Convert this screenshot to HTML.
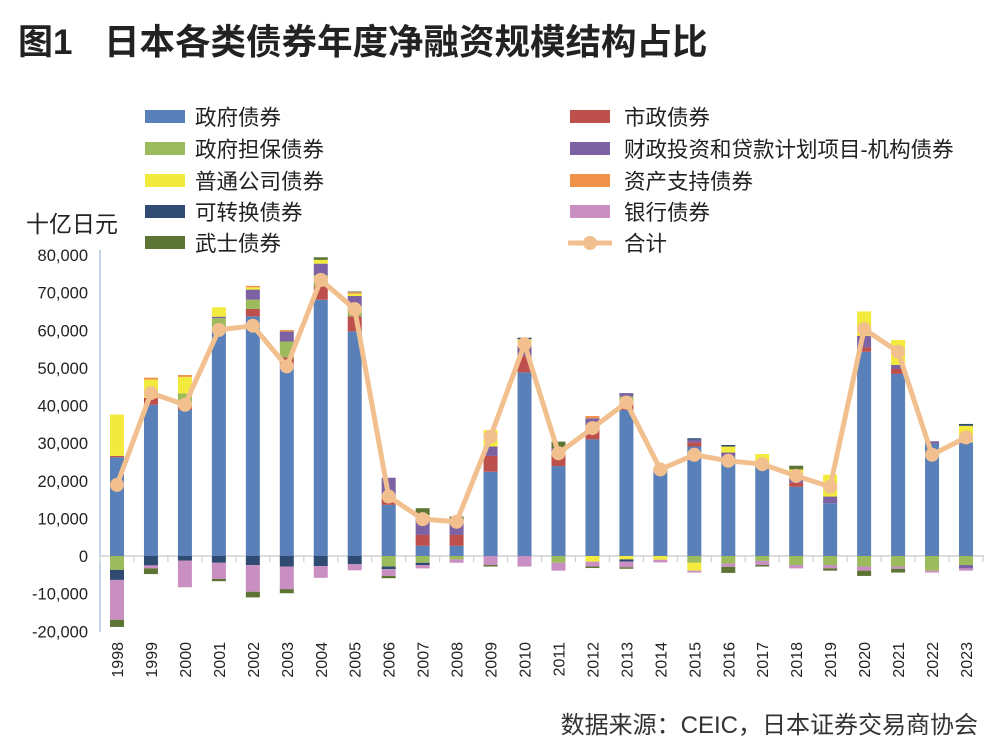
<!DOCTYPE html>
<html><head><meta charset="utf-8">
<style>
body{margin:0;background:#fff;}
#wrap{position:relative;width:1000px;height:752px;overflow:hidden;font-family:"Liberation Sans","Noto Sans CJK SC",sans-serif;}
</style></head>
<body>
<div id="wrap">
<svg id="chart" width="1000" height="752" xmlns="http://www.w3.org/2000/svg">
<g>
<text x="18" y="54" font-size="35" font-weight="bold" fill="#222" font-family="Liberation Sans, Noto Sans CJK SC, sans-serif">图1</text>
<text x="104" y="54" font-size="35.5" font-weight="bold" fill="#222" font-family="Liberation Sans, Noto Sans CJK SC, sans-serif">日本各类债券年度净融资规模结构占比</text>
</g>
<text x="26" y="232" font-size="23" fill="#222" font-family="Liberation Sans, Noto Sans CJK SC, sans-serif">十亿日元</text>
<text x="978" y="733" font-size="24" fill="#333" text-anchor="end" font-family="Liberation Sans, Noto Sans CJK SC, sans-serif">数据来源：CEIC，日本证券交易商协会</text>
<g id="legend"></g>
<g id="axes"></g>
<g id="bars"></g>
<g id="line"></g>
</svg>
</div>
<script>
const years=["1998","1999","2000","2001","2002","2003","2004","2005","2006","2007","2008","2009","2010","2011","2012","2013","2014","2015","2016","2017","2018","2019","2020","2021","2022","2023"];
const govBonds=[26250,40200,38800,59400,63700,50800,68100,59700,13600,2700,2700,22400,48800,23900,31000,38800,23000,29100,26400,24600,18400,14000,54300,48400,29800,30200];
const municipalBonds=[350,1800,900,300,1950,2000,3500,4000,2600,2900,2900,4200,4300,2900,3800,1800,0,1100,0,0,1100,0,1100,1300,0,0];
const govGuaranteed=[-3700,0,3500,3500,2500,4200,3000,2700,-2800,-1800,-900,0,0,-1800,0,1800,600,-1800,-2000,-1300,-2400,-2400,-2800,-2800,-3900,-2400];
const filpAgency=[0,0,0,400,2650,2650,3100,2700,4600,4900,4000,2500,2700,1800,1800,900,0,700,1100,0,1100,1800,3100,1100,700,-900];
const corporateBonds=[11000,4900,4400,2500,600,0,1000,600,0,400,0,4400,1800,0,-1500,-900,-1000,-2100,1600,2500,2400,5800,6500,6600,0,4400];
const assetBacked=[0,500,500,0,400,400,0,400,0,0,0,0,0,0,600,0,0,0,0,0,0,0,0,0,0,0];
const convertibleBonds=[-2660,-2500,-1200,-1800,-2400,-2800,-2700,-2200,-700,-600,0,0,400,0,0,-600,0,400,400,0,0,0,0,0,0,500];
const bankBonds=[-10600,-800,-7100,-4300,-7100,-6000,-3100,-1600,-1800,-900,-900,-2400,-2800,-2100,-1300,-1500,-700,-500,-900,-1100,-900,-900,-1100,-600,-500,-600];
const samuraiBonds=[-1900,-1500,0,-600,-1500,-1100,700,200,-600,1800,900,-400,0,1800,-400,-400,0,0,-1600,-400,1000,-600,-1400,-1000,0,0];
const totals=[18900,43300,40200,60100,61200,50400,73400,65600,15800,9800,9100,31700,56300,27300,34000,40800,23000,26900,25300,24400,21300,18400,60300,54300,26900,31500];
const yTicks=[80000,70000,60000,50000,40000,30000,20000,10000,0,-10000,-20000];
const seriesNames=["政府债券","市政债券","政府担保债券","财政投资和贷款计划项目-机构债券","普通公司债券","资产支持债券","可转换债券","银行债券","武士债券"];

const series=[govBonds,municipalBonds,govGuaranteed,filpAgency,corporateBonds,assetBacked,convertibleBonds,bankBonds,samuraiBonds];
const colors=["#5a80b9","#bd4f4c","#9bbb5d","#7c62a2","#f2ea3c","#f0914a","#2f4b72","#c98fc2","#5d7534"];
const slugs=["gov","municipal","gov-guaranteed","filp-agency","corporate","abs","convertible","bank","samurai"];
const NS="http://www.w3.org/2000/svg";
const x0=117,step=33.96,barW=14;
function xs(i){return x0+i*step;}
function ys(v){return 556-v*(301/80000);}
function mk(tag,attrs,parent){const e=document.createElementNS(NS,tag);for(const k in attrs)e.setAttribute(k,attrs[k]);parent.appendChild(e);return e;}
const FF="Liberation Sans, Noto Sans CJK SC, sans-serif";

const axes=document.getElementById('axes');
let a=mk('line',{x1:100,y1:250,x2:100,y2:632,stroke:'#9db8dc','stroke-width':1.2},axes);


yTicks.forEach(t=>{
  const e=mk('text',{x:88,y:ys(t)+6,'font-size':16.5,'text-anchor':'end',fill:'#222','font-family':FF},axes);
  e.textContent=t.toLocaleString('en-US');
  
  
});
let z=mk('line',{x1:100,y1:ys(0),x2:984,y2:ys(0),stroke:'#d0d0d0','stroke-width':1.5},axes);


for(let i=0;i<=years.length;i++){
  const tx=x0-step/2+i*step;
  const t=mk('line',{x1:tx,y1:ys(0),x2:tx,y2:ys(0)+6,stroke:'#d0d0d0','stroke-width':1.2},axes);
  
  
}
years.forEach((y,i)=>{
  const e=mk('text',{x:0,y:0,'font-size':16,'text-anchor':'end',fill:'#222','font-family':FF,transform:`translate(${xs(i)+6},642) rotate(-90)`},axes);
  e.textContent=y;
  
  
});

const bars=document.getElementById('bars');
years.forEach((y,i)=>{
  let pos=0,neg=0;
  series.forEach((s,k)=>{
    const v=s[i]; if(!v) return;
    let top,bot;
    if(v>0){bot=pos;pos+=v;top=pos;} else {top=neg;neg+=v;bot=neg;}
    const r=mk('rect',{x:xs(i)-barW/2,y:ys(top),width:barW,height:Math.max(0.5,ys(bot)-ys(top)),fill:colors[k]},bars);
    
    
  });
});

const lg=document.getElementById('line');
const pts=totals.map((v,i)=>xs(i)+','+ys(v)).join(' ');
const pl=mk('polyline',{points:pts,fill:'none',stroke:'#f2c08f','stroke-width':5,'stroke-linejoin':'round'},lg);


totals.forEach((v,i)=>{
  const c=mk('circle',{cx:xs(i),cy:ys(v),r:7,fill:'#f2c08f'},lg);
  
  
});

const leg=document.getElementById('legend');
const leftIdx=[0,2,4,6,8], rightIdx=[1,3,5,7];
const rowY=[117,149,181,212,243];
leftIdx.forEach((k,r)=>{
  const g=mk('g',{},leg);
  
  
  mk('rect',{x:145,y:rowY[r]-7,width:40,height:13,fill:colors[k]},g);
  const t=mk('text',{x:195,y:rowY[r]+8,'font-size':21.5,fill:'#222','font-family':FF},g);
  t.textContent=seriesNames[k];
});
rightIdx.forEach((k,r)=>{
  const g=mk('g',{},leg);
  
  
  mk('rect',{x:570,y:rowY[r]-7,width:40,height:13,fill:colors[k]},g);
  const t=mk('text',{x:624,y:rowY[r]+8,'font-size':21.5,fill:'#222','font-family':FF},g);
  t.textContent=seriesNames[k];
});
const gt=mk('g',{},leg);


mk('line',{x1:568,y1:243,x2:612,y2:243,stroke:'#f2c08f','stroke-width':5},gt);
mk('circle',{cx:590,cy:243,r:7,fill:'#f2c08f'},gt);
const tt=mk('text',{x:624,y:251,'font-size':21.5,fill:'#222','font-family':FF},gt);
tt.textContent='合计';
</script>
</body></html>
